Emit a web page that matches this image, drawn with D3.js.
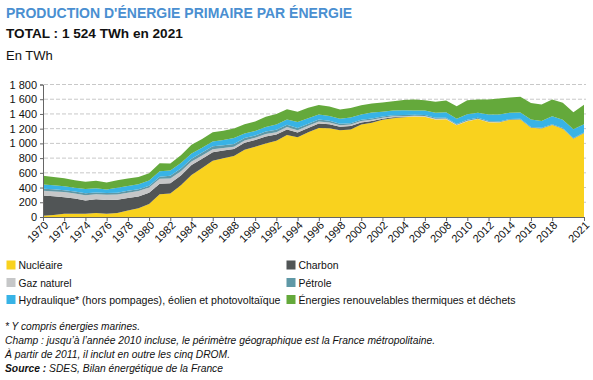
<!DOCTYPE html>
<html>
<head>
<meta charset="utf-8">
<script src="https://cdn.jsdelivr.net/npm/d3@7"></script>
<style>
  html, body { margin: 0; padding: 0; background: #fff; }
  svg { display: block; font-family: "Liberation Sans", Arial, sans-serif; }
</style>
</head>
<body>
<svg id="chart" width="593" height="380"></svg>
<script>
// ---------------- DATA (TWh) ----------------
const years = d3.range(1970, 2022);
const nucleaire = [18,28,45,45,45,55,45,53,88,120,175,308,320,430,570,665,765,797,828,915,955,1000,1036,1113,1082,1150,1210,1205,1180,1190,1255,1280,1320,1340,1355,1365,1362,1325,1328,1245,1300,1330,1288,1283,1322,1325,1213,1203,1250,1200,1062,1138];
const charbon   = [275,255,225,205,180,185,185,180,170,160,155,145,140,135,135,125,115,105,95,95,90,95,85,75,65,60,60,55,45,45,30,25,15,15,3,0,0,0,0,0,0,0,0,0,0,0,0,0,0,0,0,0];
const gaz       = [62,65,68,70,72,70,72,72,72,72,70,65,62,57,50,45,40,35,33,30,30,33,32,35,33,30,28,25,22,20,18,17,15,14,12,11,10,10,9,9,8,6,5,3,0,0,0,0,0,0,0,0];
const petrole   = [28,28,26,25,24,24,25,24,25,25,25,28,40,38,38,40,40,38,36,34,32,32,32,30,30,28,25,22,20,20,18,16,15,14,14,13,13,13,12,11,12,11,10,10,10,10,10,10,10,10,10,10];
const hydraulique = [60,55,55,52,58,58,48,70,67,67,70,75,70,72,70,65,65,72,80,60,60,62,73,70,80,75,68,65,67,77,72,80,65,65,65,57,62,68,74,71,77,70,89,98,85,83,100,90,107,110,120,112];
const enr       = [118,112,106,103,100,100,95,100,100,100,100,108,95,106,120,120,125,125,130,125,130,140,140,140,140,140,130,128,125,128,125,125,125,125,140,150,140,150,160,170,190,180,205,215,205,215,225,227,230,232,230,264];

const keys = ["Nucléaire","Charbon","Gaz naturel","Pétrole","Hydraulique* (hors pompages), éolien et photovoltaïque","Énergies renouvelables thermiques et déchets"];
const series = [nucleaire, charbon, gaz, petrole, hydraulique, enr];
const colors = ["#f9d21e","#515556","#c6c7c8","#5f98a6","#38b3e6","#64a93b"];
const yTicks = [0,200,400,600,800,1000,1200,1400,1600,1800];
const xTicks = [1970,1972,1974,1976,1978,1980,1982,1984,1986,1988,1990,1992,1994,1996,1998,2000,2002,2004,2006,2008,2010,2012,2014,2016,2018,2021];
const title = "PRODUCTION D'ÉNERGIE PRIMAIRE PAR ÉNERGIE";
const subtitle = "TOTAL : 1 524 TWh en 2021";
const unit = "En TWh";
const notes = ["* Y compris énergies marines.",
  "Champ : jusqu’à l’année 2010 incluse, le périmètre géographique est la France métropolitaine.",
  "À partir de 2011, il inclut en outre les cinq DROM."];
const sourceLabel = "Source :";
const sourceText = " SDES, Bilan énergétique de la France";

// ---------------- BUILD ----------------
const table = years.map((yr, i) => {
  const o = { year: yr };
  keys.forEach((k, j) => o[k] = series[j][i]);
  return o;
});

const svg = d3.select("#chart");
const x = d3.scaleLinear().domain([1970, 2021]).range([43, 584]);
const y = d3.scaleLinear().domain([0, 1800]).range([217, 84.5]);

// Titles
svg.append("text").attr("x", 6).attr("y", 18)
  .attr("font-size", 14).attr("font-weight", "bold").attr("fill", "#4a8fd1")
  .text(title);
svg.append("text").attr("x", 6).attr("y", 38)
  .attr("font-size", 13.6).attr("font-weight", "bold").attr("fill", "#111")
  .text(subtitle);
svg.append("text").attr("x", 6).attr("y", 60)
  .attr("font-size", 13).attr("fill", "#111")
  .text(unit);

// Grid
svg.append("g").selectAll("line").data(yTicks.filter(d => d > 0)).join("line")
  .attr("x1", 44).attr("x2", 586)
  .attr("y1", d => y(d)).attr("y2", d => y(d))
  .attr("stroke", "#c8c8c8").attr("stroke-width", 1)
  .attr("stroke-dasharray", "4,2");

// Stacked areas
const stack = d3.stack().keys(keys);
const stacked = stack(table);
const area = d3.area()
  .x(d => x(d.data.year))
  .y0(d => y(d[0]))
  .y1(d => y(d[1]));
svg.append("g").selectAll("path").data(stacked).join("path")
  .attr("d", area)
  .attr("fill", (d, i) => colors[i]);

// Y axis
const fr = d3.formatLocale({ decimal: ",", thousands: "\u00a0", grouping: [3], currency: ["", " €"] });
const yAxis = d3.axisLeft(y).tickValues(yTicks).tickSize(3).tickPadding(3).tickFormat(fr.format(","));
const gy = svg.append("g").attr("transform", "translate(43,0)").call(yAxis);
gy.select(".domain").attr("stroke", "#666");
gy.selectAll(".tick line").attr("stroke", "#666");
gy.selectAll("text").attr("font-size", 11).attr("fill", "#111").attr("font-family", "Liberation Sans, Arial, sans-serif");

// X axis
const xAxis = d3.axisBottom(x).tickValues(xTicks).tickSize(4).tickFormat("");
const gx = svg.append("g").attr("transform", "translate(0,217)").call(xAxis);
gx.select(".domain").attr("stroke", "#666");
gx.selectAll(".tick line").attr("stroke", "#666");
svg.append("g").selectAll("text").data(xTicks).join("text")
  .attr("transform", d => `translate(${x(d) + 6},${226}) rotate(-45)`)
  .attr("text-anchor", "end")
  .attr("font-size", 11).attr("fill", "#111")
  .text(d => d);

// Legend
const legPos = [[6, 269], [286, 269], [6, 286.5], [286, 286.5], [6, 303.5], [286, 303.5]];
const legW = [44, 40, 53, 33, 262, 217];
const leg = svg.append("g").selectAll("g").data(keys).join("g")
  .attr("transform", (d, i) => `translate(${legPos[i][0]},${legPos[i][1]})`);
leg.append("rect").attr("x", 0.5).attr("y", -8.5).attr("width", 9).attr("height", 9)
  .attr("fill", (d, i) => colors[i]);
leg.append("text").attr("x", 12.5).attr("y", 0)
  .attr("font-size", 11.5).attr("fill", "#111")
  .attr("textLength", (d, i) => legW[i]).attr("lengthAdjust", "spacingAndGlyphs")
  .text(d => d);

// Notes
const noteW = [135, 430, 225];
svg.append("g").selectAll("text").data(notes).join("text")
  .attr("x", 5).attr("y", (d, i) => 329.5 + i * 14.3)
  .attr("font-size", 10.8).attr("font-style", "italic").attr("fill", "#111")
  .attr("textLength", (d, i) => noteW[i]).attr("lengthAdjust", "spacingAndGlyphs")
  .text(d => d);
const src = svg.append("text").attr("x", 5).attr("y", 329.5 + 3 * 14.3)
  .attr("font-size", 10.8).attr("font-style", "italic").attr("fill", "#111")
  .attr("textLength", 218).attr("lengthAdjust", "spacingAndGlyphs");
src.append("tspan").attr("font-weight", "bold").text(sourceLabel);
src.append("tspan").text(sourceText);
</script>
</body>
</html>
